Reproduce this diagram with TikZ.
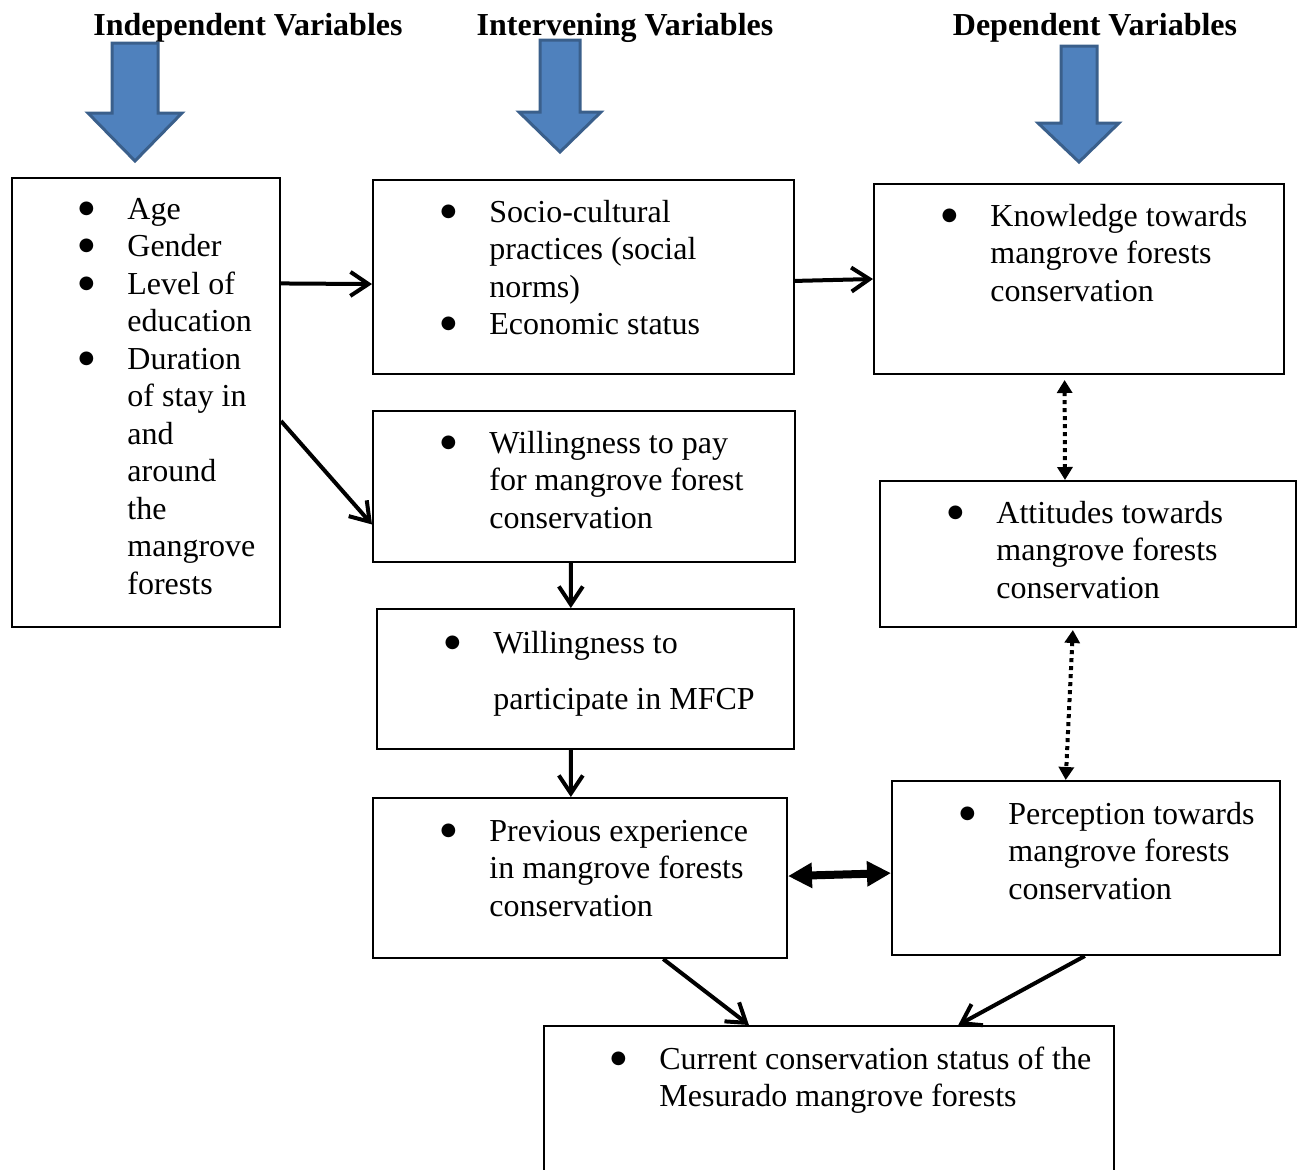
\documentclass[tikz,border=0pt]{standalone}
\usepackage{fontspec}
\setmainfont{Liberation Serif}
\newfontfamily\bulfont{DejaVu Sans}
\usetikzlibrary{arrows.meta,calc}
\setlength{\parindent}{0pt}
\definecolor{blockfill}{HTML}{4F81BD}
\definecolor{blockdraw}{HTML}{3A5F8B}
\newcommand{\bul}{\llap{\raisebox{2.8pt}{\bulfont\fontsize{9}{9}\selectfont ●}\hspace{16.5pt}}}
\begin{document}
\begin{tikzpicture}[x=0.5pt,y=-0.5pt,
  box/.style={draw, line width=1pt, anchor=north west, inner sep=0pt},
  txt/.style={anchor=base west, align=left, inner sep=0pt, font=\fontsize{16}{18.75}\selectfont},
  head/.style={anchor=base, inner sep=0pt, font=\fontsize{16}{18.75}\selectfont\bfseries},
  blockarrow/.style={fill=blockfill, draw=blockdraw, line width=1.5pt, line join=miter},
  conn/.style={line width=2pt, -{Straight Barb[length=9pt,width=12pt]}},
  dconn/.style={line width=4pt, {Triangle[length=12pt,width=12pt]}-{Triangle[length=12pt,width=12pt]}},
  dotconn/.style={line width=2pt, dash pattern=on 2pt off 2pt, {Triangle[length=6.5pt,width=7.5pt]}-{Triangle[length=6.5pt,width=7.5pt]}}
]
\useasboundingbox (0,0) rectangle (1297,1169);
\clip (0,0) rectangle (1297,1169);

% headings
\node[head] (h1) at (248,35) {Independent Variables};
\node[head] (h2) at (625,35) {Intervening Variables};
\node[head] (h3) at (1095,35) {Dependent Variables};

% block arrows
\draw[blockarrow] (112,43) -- (158,43) -- (158,113) -- (182,113) -- (135,161) -- (88,113) -- (112,113) -- cycle;
\draw[blockarrow] (540,40) -- (580,40) -- (580,112) -- (601,112) -- (560,152) -- (519,112) -- (540,112) -- cycle;
\draw[blockarrow] (1061,46) -- (1097,46) -- (1097,123) -- (1119,123) -- (1079,162) -- (1038,123) -- (1061,123) -- cycle;

% boxes
\node[box, minimum width=134pt, minimum height=224.5pt] (A) at (11,177) {};
\node[box, minimum width=210.5pt, minimum height=97pt] (B) at (372,179) {};
\node[box, minimum width=211pt, minimum height=75.5pt] (C) at (372,410) {};
\node[box, minimum width=208.5pt, minimum height=70pt] (D) at (376,608) {};
\node[box, minimum width=207pt, minimum height=80pt] (E) at (372,797) {};
\node[box, minimum width=205pt, minimum height=95pt] (F) at (873,183) {};
\node[box, minimum width=208pt, minimum height=73pt] (G) at (879,480) {};
\node[box, minimum width=194pt, minimum height=87pt] (H) at (891,780) {};
\node[box, minimum width=285pt, minimum height=87.5pt] (I) at (543,1025) {};

% texts (anchored at the baseline of their last line)
\node[txt] (tA) at (127,594) {\bul Age\\ \bul Gender\\ \bul Level of\\ education\\ \bul Duration\\ of stay in\\ and\\ around\\ the\\ mangrove\\ forests};
\node[txt] (tB) at (489,334.5) {\bul Socio-cultural\\ practices (social\\ norms)\\ \bul Economic status};
\node[txt] (tC) at (489,528) {\bul Willingness to pay\\ for mangrove forest\\ conservation};
\node[txt] (tD) at (493,709) {\bul Willingness to\\[9.25pt] participate in MFCP};
\node[txt] (tE) at (489,916) {\bul Previous experience\\ in mangrove forests\\ conservation};
\node[txt] (tF) at (990,301) {\bul Knowledge towards\\ mangrove forests\\ conservation};
\node[txt] (tG) at (996,598) {\bul Attitudes towards\\ mangrove forests\\ conservation};
\node[txt] (tH) at (1008,899) {\bul Perception towards\\ mangrove forests\\ conservation};
\node[txt] (tI) at (659,1106.5) {\bul Current conservation status of the\\ Mesurado mangrove forests};

% connectors
\draw[conn] ($(A.north east)!0.236!(A.south east)$) -- ($(B.north west)!0.536!(B.south west)$);
\draw[conn] ($(B.north east)!0.52!(B.south east)$) -- ($(F.north west)!0.5!(F.south west)$);
\draw[conn] ($(A.north east)!0.541!(A.south east)$) -- ($(C.north west)!0.748!(C.south west)$);
\draw[conn] ($(C.south west)!0.469!(C.south east)$) -- ($(D.north west)!0.465!(D.north east)$);
\draw[conn] ($(D.south west)!0.465!(D.south east)$) -- ($(E.north west)!0.478!(E.north east)$);
\draw[dconn] ($(E.north east)!0.488!(E.south east)$) -- ($(H.north west)!0.529!(H.south west)$);
\draw[dotconn, shorten <=2.5pt] ($(F.south west)!0.465!(F.south east)$) -- ($(G.north west)!0.445!(G.north east)$);
\draw[dotconn, shorten <=1pt] ($(G.south west)!0.464!(G.south east)$) -- ($(H.north west)!0.448!(H.north east)$);
\draw[conn] ($(E.south west)!0.70!(E.south east)$) -- ($(I.north west)!0.36!(I.north east)$);
\draw[conn] ($(H.south west)!0.497!(H.south east)$) -- ($(I.north west)!0.726!(I.north east)$);
\end{tikzpicture}
\end{document}
